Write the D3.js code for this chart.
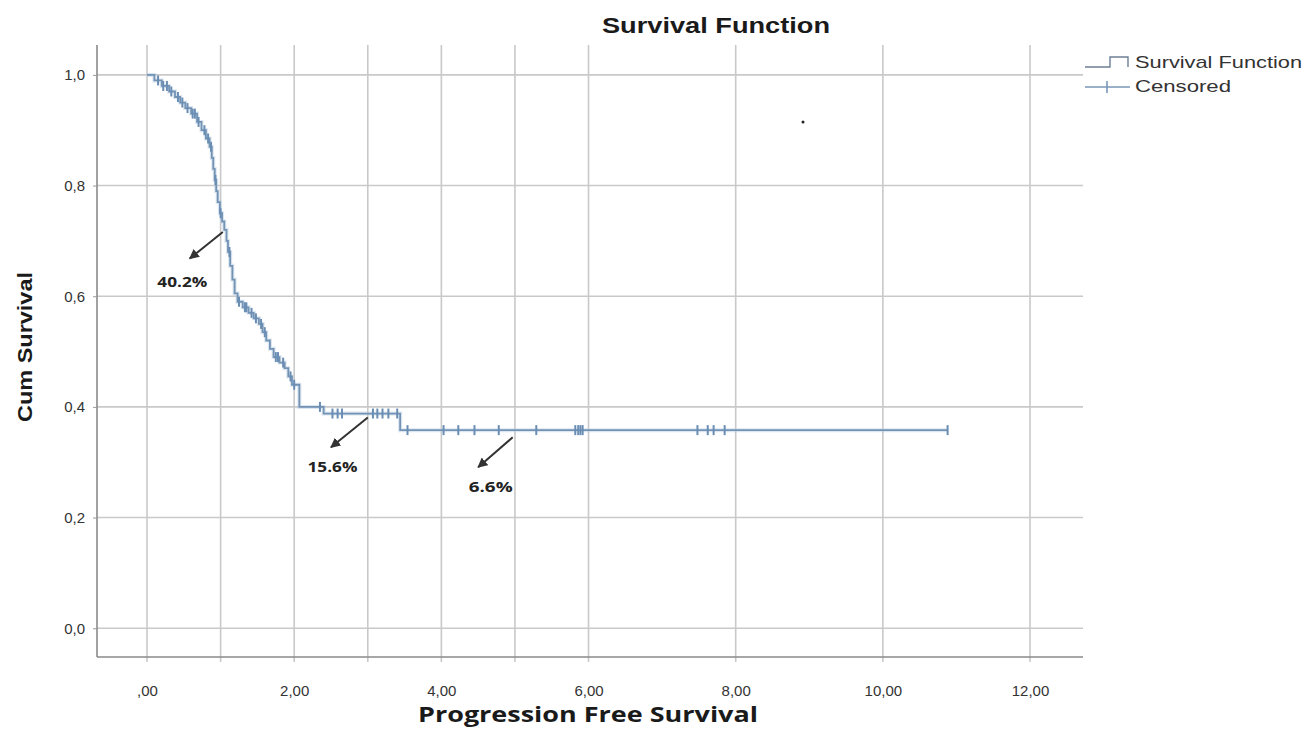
<!DOCTYPE html>
<html><head><meta charset="utf-8">
<script src="https://cdn.jsdelivr.net/npm/d3@7"></script>
<style>body{margin:0;background:#fff}svg{display:block}</style>
</head><body>
<svg id="c" width="1305" height="733"></svg>
<script>
// ---- data ----
const eventTimes = [0.10,0.20,0.30,0.38,0.45,0.52,0.60,0.68,0.74,0.80,0.85,0.88,0.90,0.92,0.94,0.96,0.99,1.02,1.05,1.08,1.10,1.13,1.16,1.19,1.23,1.30,1.38,1.45,1.52,1.57,1.62,1.67,1.72,1.80,1.87,1.92,1.97,2.07,2.40,3.44];
const survival   = [0.99,0.98,0.97,0.96,0.95,0.94,0.93,0.915,0.90,0.885,0.87,0.85,0.83,0.81,0.79,0.77,0.75,0.735,0.72,0.70,0.68,0.655,0.63,0.605,0.59,0.58,0.57,0.56,0.55,0.535,0.52,0.505,0.49,0.48,0.47,0.455,0.44,0.40,0.388,0.358];
const censorTimes = [0.15,0.22,0.27,0.33,0.42,0.48,0.55,0.62,0.65,0.70,0.78,0.83,0.87,0.93,1.00,1.12,1.25,1.33,1.35,1.42,1.48,1.55,1.60,1.75,1.78,1.85,1.95,2.00,2.35,2.52,2.59,2.65,3.07,3.13,3.20,3.28,3.40,3.54,4.03,4.23,4.45,4.78,5.29,5.82,5.86,5.89,5.92,7.48,7.62,7.70,7.85,10.88];
const xTicks = [0,2,4,6,8,10,12];
const xTickLabels = [",00","2,00","4,00","6,00","8,00","10,00","12,00"];
const xGridTimes = [0,1,2,3,4,5,6,8,10,12];
const yTicks = [0,0.2,0.4,0.6,0.8,1.0];
const yTickLabels = ["0,0","0,2","0,4","0,6","0,8","1,0"];
const annLabels = ["40.2%","15.6%","6.6%"];
const annFromT = [1.03,3.00,4.97];
const annFromS = [0.716,0.381,0.345];
const annToT = [0.58,2.50,4.50];
const annToS = [0.668,0.327,0.291];
const annTextT = [0.48,2.52,4.67];
const annTextS = [0.616,0.282,0.246];
const legendItems = ["Survival Function","Censored"];

// ---- chart ----
const svg = d3.select("#c");
const L=97, R=1083, T=45, B=657;
const x = d3.scaleLinear().domain([-0.68,12.72]).range([L,R]);
const y = d3.scaleLinear().domain([-0.052,1.054]).range([B,T]);
const blue = "#7393b5";

const defs = svg.append("defs");
defs.append("marker").attr("id","ah").attr("viewBox","0 0 10 10").attr("refX",9).attr("refY",5)
  .attr("markerWidth",5).attr("markerHeight",5).attr("orient","auto")
  .append("path").attr("d","M0,0L10,5L0,10z").attr("fill","#333");

// grid
svg.append("g").selectAll("line").data(yTicks).join("line")
  .attr("x1",L).attr("x2",R).attr("y1",d=>y(d)).attr("y2",d=>y(d))
  .attr("stroke","#c9c9c9").attr("stroke-width",1.6);
svg.append("g").selectAll("line").data(xGridTimes).join("line")
  .attr("x1",d=>x(d)).attr("x2",d=>x(d)).attr("y1",T).attr("y2",B+5)
  .attr("stroke","#c9c9c9").attr("stroke-width",1.6);

// axes
const ya = svg.append("g").attr("transform",`translate(${L},0)`)
  .call(d3.axisLeft(y).tickValues(yTicks).tickFormat((d,i)=>yTickLabels[i]).tickSize(4).tickPadding(8));
ya.select(".domain").attr("stroke","#8a8a8a").attr("stroke-width",1.6).attr("d",`M0,${T}V${B}`);
const xa = svg.append("g").attr("transform",`translate(0,${B})`)
  .call(d3.axisBottom(x).tickValues(xTicks).tickFormat((d,i)=>xTickLabels[i]).tickSize(0).tickPadding(28));
xa.select(".domain").attr("stroke","#8a8a8a").attr("stroke-width",1.6).attr("d",`M${L},0H${R}`);
[ya,xa].forEach(a=>{
  a.selectAll(".tick line").attr("stroke","#9a9a9a");
  a.selectAll("text").attr("font-family","Liberation Sans, Arial, sans-serif").attr("font-size",15).attr("fill","#333");
});

// survival step curve
const pts = [[0,1]];
eventTimes.forEach((t,i)=>pts.push([t,survival[i]]));
pts.push([censorTimes[censorTimes.length-1], survival[survival.length-1]]);
const line = d3.line().x(d=>x(d[0])).y(d=>y(d[1])).curve(d3.curveStepAfter);
svg.append("path").datum(pts).attr("d",line).attr("fill","none")
  .attr("stroke","#b9cde2").attr("stroke-width",4).attr("opacity",0.5);
svg.append("path").datum(pts).attr("d",line).attr("fill","none")
  .attr("stroke",blue).attr("stroke-width",1.8);

// censor ticks
const S = t => { let s=1; eventTimes.forEach((e,i)=>{ if(e<=t) s=survival[i]; }); return s; };
svg.append("g").selectAll("line").data(censorTimes).join("line")
  .attr("x1",d=>x(d)).attr("x2",d=>x(d)).attr("y1",d=>y(S(d))-5).attr("y2",d=>y(S(d))+5)
  .attr("stroke","#6a8db3").attr("stroke-width",2);

// annotations
const annW = [50,50,44];
annLabels.forEach((lab,i)=>{
  svg.append("line").attr("x1",x(annFromT[i])).attr("y1",y(annFromS[i]))
    .attr("x2",x(annToT[i])).attr("y2",y(annToS[i]))
    .attr("stroke","#333").attr("stroke-width",2).attr("marker-end","url(#ah)");
  svg.append("text").attr("x",x(annTextT[i])-annW[i]/2).attr("y",y(annTextS[i]))
    .attr("textLength",annW[i]).attr("lengthAdjust","spacingAndGlyphs")
    .attr("font-family","Open Sans, sans-serif").attr("font-weight","bold")
    .attr("font-size",14).attr("fill","#222").text(lab);
});

// titles
svg.append("text").attr("x",602).attr("y",33).attr("textLength",228).attr("lengthAdjust","spacingAndGlyphs")
  .attr("font-family","Liberation Sans, Arial, sans-serif").attr("font-weight","bold").attr("font-size",22).attr("fill","#1a1a1a")
  .text("Survival Function");
svg.append("text").attr("x",418).attr("y",722).attr("textLength",340).attr("lengthAdjust","spacingAndGlyphs")
  .attr("font-family","Open Sans, sans-serif").attr("font-weight","bold").attr("font-size",21).attr("fill","#1a1a1a")
  .text("Progression Free Survival");
svg.append("text").attr("transform","translate(32,422) rotate(-90)").attr("textLength",150).attr("lengthAdjust","spacingAndGlyphs")
  .attr("font-family","Liberation Sans, Arial, sans-serif").attr("font-weight","bold").attr("font-size",21).attr("fill","#1a1a1a")
  .text("Cum Survival");

// stray dot
svg.append("circle").attr("cx",803).attr("cy",122).attr("r",1.5).attr("fill","#222");

// legend
const lg = svg.append("g");
lg.append("path").attr("d","M1085,67H1110V57H1128V67").attr("fill","none").attr("stroke","#6c7f94").attr("stroke-width",1.4);
lg.append("path").attr("d","M1085,87H1130M1107,81V93").attr("fill","none").attr("stroke","#7a98b8").attr("stroke-width",1.6);
const legW = [167,96];
legendItems.forEach((t,i)=>{
  lg.append("text").attr("x",1135).attr("y",68+i*24).attr("textLength",legW[i]).attr("lengthAdjust","spacingAndGlyphs")
    .attr("font-family","Liberation Sans, Arial, sans-serif")
    .attr("font-size",17).attr("fill","#333").text(t);
});
</script>
</body></html>
